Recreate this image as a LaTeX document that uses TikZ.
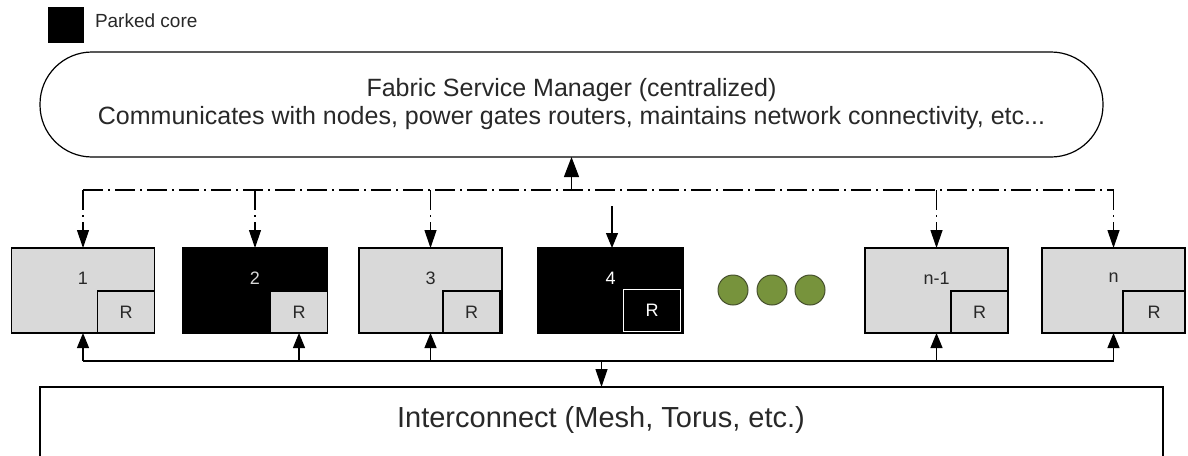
\documentclass[tikz,border=0pt]{standalone}
\usepackage{fontspec}
\setmainfont{Liberation Sans}
\usetikzlibrary{arrows.meta}
\definecolor{coregray}{RGB}{217,217,217}
\definecolor{dotgreen}{RGB}{119,147,60}
\definecolor{dotedge}{RGB}{70,80,45}
\definecolor{txtgray}{RGB}{40,40,40}
\tikzset{
  every node/.style={inner sep=0pt, outer sep=0pt},
  ln/.style={line width=1.2pt, draw=black},
  core/.style={ln, fill=coregray, minimum width=143pt, minimum height=85pt},
  parked/.style={ln, fill=black, minimum width=145pt, minimum height=85pt},
  router/.style={ln, fill=coregray, minimum width=57pt, minimum height=42pt,
    font=\fontsize{18}{20}\selectfont, text=txtgray},
  numlbl/.style={font=\fontsize{18}{20}\selectfont, text=txtgray},
  dd/.style={line width=1.2pt, dash pattern=on 20pt off 5pt on 2pt off 5pt},
  tipa/.style={-{Triangle[length=18pt,width=12pt]}},
  tipb/.style={-{Triangle[length=15pt,width=12pt]}},
  more/.style={ln, line width=1pt, draw=dotedge, fill=dotgreen, circle, minimum size=30pt},
}
\begin{document}
\begin{tikzpicture}[x=1pt, y=-1pt]
\useasboundingbox (0,0) rectangle (1188,455);
\clip (0,0) rectangle (1188,455);

% legend
\node[fill=black, minimum size=36pt] (key) at (66,25) {};
\node[anchor=west, font=\fontsize{19}{22}\selectfont, text=txtgray] (keytext) at (95,21) {Parked core};

% service manager
\node[ln, rounded corners=52pt, minimum width=1063pt, minimum height=105pt,
      align=center, font=\fontsize{25}{28}\selectfont, text=txtgray] (fsm) at (571.5,104.5)
  {Fabric Service Manager (centralized)\\Communicates with nodes, power gates routers, maintains network connectivity, etc...};

% cores and their routers
\node[core] (b1) at (83,290.5) {};
\node[router, anchor=south east] (r1) at (b1.south east) {R};
\node[numlbl] (n1) at (83,278) {1};

\node[parked] (b2) at (255,290.5) {};
\node[router, anchor=south east] (r2) at (b2.south east) {R};
\node[numlbl, text=coregray] (n2) at (255,278) {2};

\node[core] (b3) at (430.5,290.5) {};
\node[router, anchor=south east] (r3) at ([xshift=-2pt]b3.south east) {R};
\node[numlbl] (n3) at (430.5,278) {3};

\node[parked] (b4) at (610.5,290.5) {};
\node[router, fill=black, draw=white, text=white, anchor=south east] (r4) at ([xshift=-2.5pt,yshift=1.5pt]b4.south east) {R};
\node[numlbl, text=white] (n4) at (610.5,278) {4};

\node[more] (m1) at (733,290) {};
\node[more] (m2) at (772,290) {};
\node[more] (m3) at (810,290) {};

\node[core] (bm) at (936.5,290.5) {};
\node[router, anchor=south east] (rm) at (bm.south east) {R};
\node[numlbl] (nm) at (936.5,278) {n-1};

\node[core] (bn) at (1113.5,290.5) {};
\node[router, line width=1.6pt, minimum width=62pt, anchor=south west] (rn) at ([xshift=81pt]bn.south west) {R};
\node[numlbl] (nn) at (1113.5,278) {n};

% interconnect (runs past the lower edge)
\node[ln, minimum width=1123pt, minimum height=100pt, anchor=north] (ic) at (601.5,387) {};
\node[font=\fontsize{29}{32}\selectfont, text=txtgray] (ict) at (601,420) {Interconnect (Mesh, Torus, etc.)};

% control lines from the service manager
\coordinate (tjoin) at (571.5,190);
\draw[dd] (b1.north |- tjoin) -- (bn.north |- tjoin);
\foreach \b in {b1,b2,b3,bm,bn}
  \draw[dd, tipa] (\b.north |- tjoin) -- (\b.north);
\draw[line width=1.2pt, -{Triangle[length=20pt,width=15pt]}] (fsm.south |- tjoin) -- (fsm.south);
\draw[line width=1.2pt, tipb] ([xshift=1.5pt,yshift=42pt]b4.north) -- ([xshift=1.5pt]b4.north);

% data bus to the interconnect
\coordinate (bjoin) at (601.5,361);
\draw[line width=1.2pt] (b1.south |- bjoin) -- (bn.south |- bjoin);
\foreach \b in {b1,r2,b3,bm,bn}
  \draw[line width=1.2pt, tipb] (\b.south |- bjoin) -- (\b.south);
\draw[line width=1.2pt, tipa] (ic.north |- bjoin) -- (ic.north);
\end{tikzpicture}
\end{document}
